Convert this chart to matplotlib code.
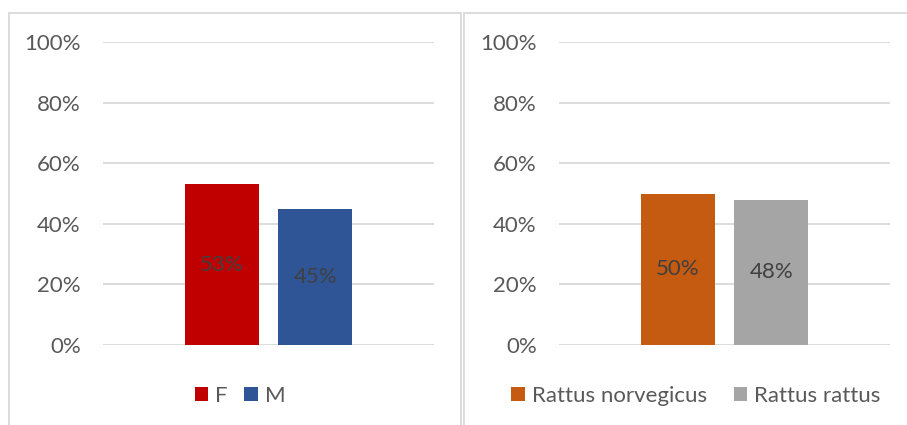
import matplotlib.pyplot as plt
from matplotlib.patches import Rectangle, Patch
from matplotlib.ticker import PercentFormatter

# data
sex_labels = ["F", "M"]
sex_values = [0.53, 0.45]
sex_colors = ["#C00000", "#2F5597"]

species_labels = ["Rattus norvegicus", "Rattus rattus"]
species_values = [0.50, 0.48]
species_colors = ["#C55A11", "#A5A5A5"]

yticks = [0, 0.2, 0.4, 0.6, 0.8, 1.0]

plt.rcParams['font.family'] = ['Lato', 'DejaVu Sans']
W, H = 907, 425
fig = plt.figure(figsize=(W / 100, H / 100), dpi=100)

# chart frames (light grey borders, bottom runs off the image)
for x0, x1 in [(9, 461), (464, 912)]:
    fig.patches.append(Rectangle((x0 / W, -0.05), (x1 - x0) / W, 1.05 - 13 / H,
                                 transform=fig.transFigure, fill=False,
                                 edgecolor="#D9D9D9", linewidth=1.3))

text_col = "#595959"
fs = 16


def draw(left, legend_x, colspace, labels, values, colors):
    ax = fig.add_axes([left / W, 1 - 345 / H, 331 / W, 303 / H])
    width = 0.2236
    offs = [-(width + 0.06) / 2, (width + 0.06) / 2]
    bars = ax.bar(offs, values, width=width, color=colors, zorder=3)
    for b, v in zip(bars, values):
        ax.text(b.get_x() + b.get_width() / 2, v / 2, f"{round(v * 100)}%",
                ha="center", va="center", fontsize=fs, color="#404040", zorder=4)
    ax.set_xlim(-0.5, 0.5)
    ax.set_ylim(0, 1.0)
    ax.set_yticks(yticks)
    ax.yaxis.set_major_formatter(PercentFormatter(1.0, decimals=0))
    ax.tick_params(axis="y", length=0, pad=16, labelsize=fs, labelcolor=text_col)
    ax.set_xticks([])
    ax.grid(axis="y", color="#D9D9D9", linewidth=1.3, zorder=0)
    for s in ax.spines.values():
        s.set_visible(False)
    handles = [Patch(facecolor=c, label=l) for c, l in zip(colors, labels)]
    fig.legend(handles=handles, loc="center",
               bbox_to_anchor=(legend_x / W, 1 - 396 / H),
               ncol=2, frameon=False, fontsize=fs, labelcolor=text_col,
               handlelength=0.62, handleheight=0.62, handletextpad=0.3,
               columnspacing=colspace, borderpad=0, borderaxespad=0)
    return ax


draw(103, 240, 0.75, sex_labels, sex_values, sex_colors)
draw(559, 696, 1.2, species_labels, species_values, species_colors)

fig.savefig("out.png", dpi=100)
